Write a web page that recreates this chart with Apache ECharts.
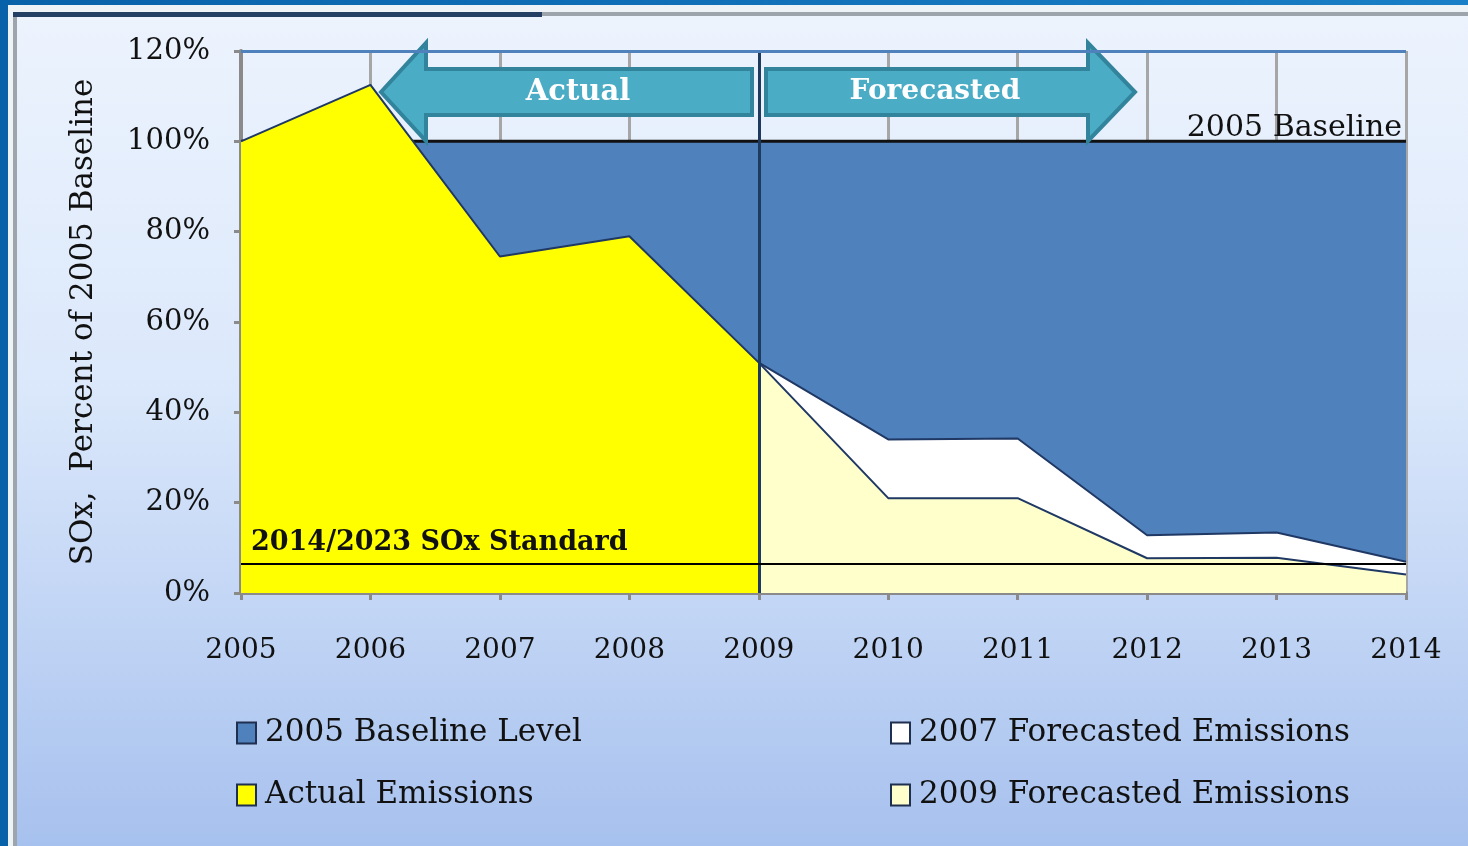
<!DOCTYPE html>
<html>
<head>
<meta charset="utf-8">
<title>SOx Emissions vs 2005 Baseline</title>
<script src="https://cdn.jsdelivr.net/npm/echarts@6/dist/echarts.min.js"></script>
<style>
  html, body { margin: 0; padding: 0; background: #0b69b0; }
  #chart { width: 1468px; height: 846px; }
</style>
</head>
<body>
<div id="chart"></div>
<script>
// Years on the category axis
const years = ['2005', '2006', '2007', '2008', '2009', '2010', '2011', '2012', '2013', '2014'];

// Emissions as percent of the 2005 baseline
const baselineLevel = [100, 100, 100, 100, 100, 100, 100, 100, 100, 100];
const actualEmissions = [100, 112.5, 74.5, 79, 51, null, null, null, null, null];
const forecast2007 = [null, null, null, null, 51, 34, 34.2, 12.8, 13.4, 6.9];
const forecast2009 = [null, null, null, null, 51, 21, 21, 7.7, 7.8, 4.1];

// Reference levels
const soxStandard = 6.5;
const baselineMark = 100;
const splitYear = '2009';

const FONT = 'DejaVu Serif';
const EDGE = '#1f3864';

const chart = echarts.init(document.getElementById('chart'), null, { renderer: 'canvas' });

function areaSeries(name, data, fill, z) {
  return {
    name: name,
    type: 'line',
    data: data,
    z: z,
    showSymbol: false,
    symbol: 'none',
    silent: true,
    lineStyle: { color: EDGE, width: 2 },
    itemStyle: { color: fill },
    areaStyle: { color: fill, opacity: 1 },
    emphasis: { disabled: true }
  };
}

const baselineSeries = areaSeries('2005 Baseline Level', baselineLevel, '#4f81bd', 1);
baselineSeries.lineStyle = { color: '#111111', width: 3 };

const topSeries = areaSeries('2009 Forecasted Emissions', forecast2009, '#ffffcc', 4);
topSeries.markLine = {
  silent: true,
  symbol: 'none',
  animation: false,
  z: 20,
  data: [
    {
      xAxis: splitYear,
      lineStyle: { color: '#1f3a5f', width: 3, type: 'solid' },
      label: { show: false }
    },
    {
      yAxis: 120,
      lineStyle: { color: '#4f81bd', width: 3, type: 'solid' },
      label: { show: false }
    },
    {
      yAxis: soxStandard,
      lineStyle: { color: '#000000', width: 2, type: 'solid' },
      label: {
        show: true,
        position: 'insideStartTop',
        formatter: '2014/2023 SOx Standard',
        fontFamily: FONT,
        fontSize: 27,
        fontWeight: 'bold',
        color: '#111111',
        distance: [10, 7]
      }
    },
    {
      yAxis: baselineMark,
      lineStyle: { color: 'rgba(0,0,0,0)', width: 1, type: 'solid' },
      label: {
        show: true,
        position: 'insideEndTop',
        formatter: '2005 Baseline',
        fontFamily: FONT,
        fontSize: 30,
        color: '#111111',
        distance: [4, -2]
      }
    }
  ]
};

// Double arrow marking actual vs forecasted years
const arrowFill = '#4bacc6';
const arrowEdge = '#31849b';

const legendText = {
  fontFamily: FONT,
  fontSize: 31,
  color: '#111111',
  lineHeight: 34,
  padding: [0, 0, 0, 4]
};
const legendBorder = { borderColor: '#1f2f4f', borderWidth: 2 };

chart.setOption({
  animation: false,
  textStyle: { fontFamily: FONT },
  graphic: [
    // page frame and panel
    { type: 'rect', z: -10, silent: true, shape: { x: 0, y: 0, width: 1468, height: 846 },
      style: { fill: new echarts.graphic.LinearGradient(0, 0, 1, 0, [
        { offset: 0, color: '#0862aa' }, { offset: 1, color: '#1a7fc6' }]) } },
    { type: 'rect', z: -9, silent: true, shape: { x: 8, y: 5, width: 1460, height: 841 },
      style: { fill: '#eef3f8' } },
    { type: 'rect', z: -8, silent: true, shape: { x: 13, y: 12, width: 1455, height: 834 },
      style: { fill: '#9ea4ab' } },
    { type: 'rect', z: -7, silent: true, shape: { x: 17, y: 16, width: 1451, height: 830 },
      style: { fill: new echarts.graphic.LinearGradient(0, 0, 0, 1, [
        { offset: 0, color: '#ecf3fd' },
        { offset: 0.45, color: '#dbe8fb' },
        { offset: 1, color: '#a7c1ee' }]) } },
    { type: 'rect', z: -6, silent: true, shape: { x: 13, y: 12, width: 529, height: 5 },
      style: { fill: '#233f63' } },
    // left-pointing arrow
    { type: 'polygon', z: 10, silent: true,
      shape: { points: [[381, 92], [426, 43], [426, 69], [752, 69], [752, 115], [426, 115], [426, 141]] },
      style: { fill: arrowFill, stroke: arrowEdge, lineWidth: 4, lineJoin: 'miter' } },
    // right-pointing arrow
    { type: 'polygon', z: 10, silent: true,
      shape: { points: [[766, 69], [1088, 69], [1088, 43], [1135, 92], [1088, 141], [1088, 115], [766, 115]] },
      style: { fill: arrowFill, stroke: arrowEdge, lineWidth: 4, lineJoin: 'miter' } },
    { type: 'text', z: 11, silent: true, x: 578, y: 92,
      style: { text: 'Actual', fill: '#ffffff', font: 'bold 29px "DejaVu Serif"', align: 'center', verticalAlign: 'middle' } },
    { type: 'text', z: 11, silent: true, x: 935, y: 92,
      style: { text: 'Forecasted', fill: '#ffffff', font: 'bold 28px "DejaVu Serif"', align: 'center', verticalAlign: 'middle' } }
  ],
  grid: { left: 241, right: 62, top: 51, bottom: 253, containLabel: false },
  legend: [
    {
      orient: 'vertical',
      left: 231,
      top: 711,
      itemWidth: 19,
      itemHeight: 21,
      itemGap: 28,
      icon: 'rect',
      selectedMode: false,
      textStyle: legendText,
      data: [
        { name: '2005 Baseline Level', itemStyle: Object.assign({ color: '#4f81bd' }, legendBorder) },
        { name: 'Actual Emissions', itemStyle: Object.assign({ color: '#ffff00' }, legendBorder) }
      ]
    },
    {
      orient: 'vertical',
      left: 885,
      top: 711,
      itemWidth: 19,
      itemHeight: 21,
      itemGap: 28,
      icon: 'rect',
      selectedMode: false,
      textStyle: legendText,
      data: [
        { name: '2007 Forecasted Emissions', itemStyle: Object.assign({ color: '#ffffff' }, legendBorder) },
        { name: '2009 Forecasted Emissions', itemStyle: Object.assign({ color: '#ffffcc' }, legendBorder) }
      ]
    }
  ],
  xAxis: {
    type: 'category',
    data: years,
    boundaryGap: false,
    axisLine: { show: true, lineStyle: { color: '#8a8a8a', width: 4 } },
    axisTick: { show: true, length: 7, lineStyle: { color: '#8a8a8a', width: 3 } },
    axisLabel: { margin: 44, fontFamily: FONT, fontSize: 28, color: '#111111' },
    splitLine: { show: true, lineStyle: { color: '#a6a6a6', width: 3 } }
  },
  yAxis: {
    type: 'value',
    min: 0,
    max: 120,
    interval: 20,
    name: 'SOx,  Percent of 2005 Baseline',
    nameLocation: 'middle',
    nameGap: 142,
    nameRotate: 90,
    nameTextStyle: { fontFamily: FONT, fontSize: 31, color: '#111111' },
    axisLine: { show: true, lineStyle: { color: '#8a8a8a', width: 4 } },
    axisTick: { show: true, length: 7, lineStyle: { color: '#8a8a8a', width: 3 } },
    axisLabel: { margin: 31, formatter: '{value}%', fontFamily: FONT, fontSize: 29, color: '#111111' },
    splitLine: { show: false }
  },
  series: [
    baselineSeries,
    areaSeries('Actual Emissions', actualEmissions, '#ffff00', 2),
    areaSeries('2007 Forecasted Emissions', forecast2007, '#ffffff', 3),
    topSeries
  ]
});
</script>
</body>
</html>
